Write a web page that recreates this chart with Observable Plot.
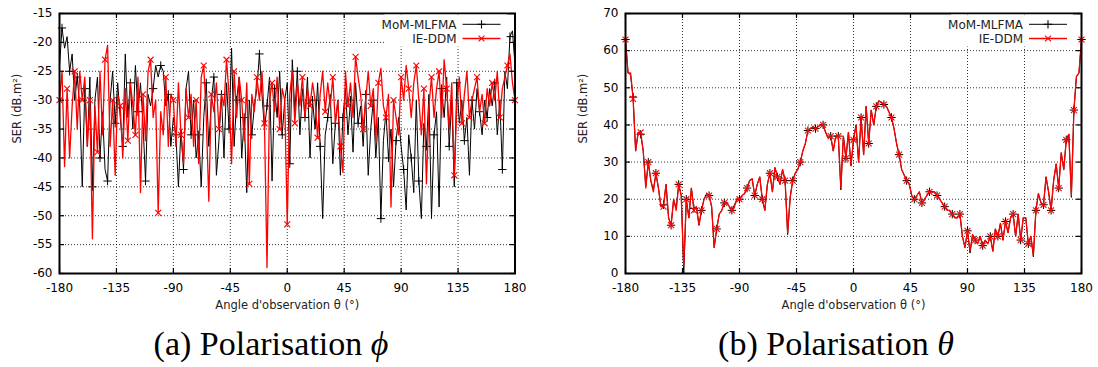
<!DOCTYPE html>
<html><head><meta charset="utf-8">
<script src="https://cdn.jsdelivr.net/npm/d3@7"></script>
<script src="https://cdn.jsdelivr.net/npm/@observablehq/plot@0.6"></script>
<style>
body{margin:0;background:#fff;}
#wrap{position:relative;width:1098px;height:367px;overflow:hidden;background:#fff}
.panel{position:absolute;top:0}
.cap{position:absolute;top:327px;font-family:"Liberation Serif","Times New Roman","DejaVu Serif",serif;font-size:34px;line-height:34px;white-space:nowrap;transform:translateX(-50%);color:#000}
</style></head><body>
<div id="wrap">
<div id="pa" class="panel" style="left:0"></div>
<div id="pb" class="panel" style="left:549px"></div>
<div class="cap" style="left:271px">(a) Polarisation <i>ϕ</i></div>
<div class="cap" style="left:836px">(b) Polarisation <i>θ</i></div>
</div>
<script>
// Observation angles (degrees), 2° sampling
const angles = d3.range(-180, 181, 2);
const xTicks = [-180, -135, -90, -45, 0, 45, 90, 135, 180];
const yTicksA = [-60, -55, -50, -45, -40, -35, -30, -25, -20, -15];
const yTicksB = [0, 10, 20, 30, 40, 50, 60, 70];
const seriesNames = ["MoM-MLFMA", "IE-DDM"];
const xLabel = "Angle d'observation θ (°)";
const yLabel = "SER (dB.m²)";

// (a) Polarisation phi
const momA = [
 -24, -17.5, -21, -19, -25, -22, -30, -26, -31, -45,
 -28, -38, -26, -45, -30, -26, -40, -32, -42, -44,
 -30, -25, -34, -27, -33, -38, -22, -33, -27, -35,
 -24, -32, -27, -34, -44, -29, -31, -28, -24, -26,
 -24, -25, -31, -29, -38, -33, -36, -45, -35, -42,
 -28, -25, -36, -30, -40, -36, -45, -33, -27, -38,
 -30, -26, -43, -37, -29, -40, -27, -35, -21, -38,
 -30, -26, -40, -33, -46, -30, -36, -31, -28, -22,
 -29, -35, -31, -26, -44, -28, -33, -25, -36, -30,
 -27, -41, -23, -32, -25, -36, -28, -33, -26, -40,
 -30, -35, -27, -38, -50.5, -36, -33, -29, -41, -34,
 -30, -43, -33, -28, -36, -30, -39, -27, -34, -31,
 -38, -29, -43, -35, -30, -40, -33, -50.5, -37, -32,
 -40, -35, -45, -37, -33, -38, -42, -49, -36, -40,
 -46, -30, -44, -50.5, -34, -38, -29, -50.5, -36, -32,
 -48.5, -28, -33, -26, -38, -30, -45, -27, -34, -30,
 -37, -33, -43, -30, -35, -28, -32, -36, -30, -33,
 -28, -31, -27, -36, -30, -42, -25, -28, -19, -18,
 -24
];
const ieA = [
 -30, -25, -41.5, -28, -40, -31, -25, -35, -25, -30,
 -26, -38, -30, -54, -31, -39, -25, -36, -23, -20.5,
 -38, -30, -43, -29, -31, -40, -28, -37, -27, -31,
 -36, -26, -46, -29, -37, -25, -23, -33, -30, -49.5,
 -32, -36, -26, -38, -29, -30, -38, -27, -36, -41,
 -28, -33, -29, -38, -30, -41, -26, -24, -33, -47.5,
 -29, -32, -27, -35, -29, -31, -23, -29, -41, -25,
 -33, -26, -30, -37, -27, -44.5, -29, -32, -26, -30,
 -25, -34, -59, -30, -27, -32, -26, -35, -28, -30,
 -51.5, -29, -25, -34, -27, -31, -26, -33, -28, -31,
 -27, -30, -36.5, -29, -25, -32, -27, -31, -26, -34,
 -30, -38, -42.5, -25, -31, -27, -33, -22.5, -26, -29,
 -35, -30, -25, -31, -28, -37, -27, -24.5, -31, -33,
 -29, -48.5, -30, -33, -36, -26, -30, -24, -28, -33,
 -27, -24, -30, -36, -28, -44.5, -31, -26, -33, -28,
 -25, -33, -23, -28, -35, -27, -43, -31, -26, -34,
 -29, -25, -33, -30, -28, -26, -32, -29, -34, -28,
 -31, -27, -30, -25, -33, -28, -26, -24, -22, -27,
 -30
];

// (b) Polarisation theta
const momB = [
 63, 54, 53.5, 47.5, 33, 38, 37.5, 33, 23.5, 30,
 25, 22.5, 27, 23, 18, 18.5, 24, 15, 13, 20,
 17.5, 24, 21, 0, 20, 15, 23, 17.5, 18, 13,
 17, 20, 21.5, 21, 18, 7, 12, 16, 17, 19,
 19, 18, 17, 18.5, 20, 20, 21, 21.5, 23, 25,
 25.5, 21, 24, 26, 20, 17, 24, 27, 22, 28.5,
 26, 24, 28, 25, 10.5, 20.5, 25, 27, 28, 30,
 33, 35, 38.5, 39, 39.5, 39, 39.5, 40, 40, 38,
 36.5, 37, 33, 37, 37, 22.5, 37, 31, 38, 29,
 36, 40, 30, 42, 32, 45, 35, 44, 40, 45,
 46.5, 46, 45.5, 45, 43.5, 42, 39, 35, 32, 28,
 26.5, 25, 24, 21, 20, 21, 22, 19, 20, 21,
 22, 22, 22, 21, 20, 19, 18, 17, 17, 16,
 15, 15, 16, 10, 7, 11.5, 5.5, 10.5, 9, 8,
 10, 7.5, 9, 8, 10, 6, 12, 10, 13.5, 9,
 14, 11, 15, 16, 10, 16, 9, 15, 15, 8,
 10, 4.5, 17, 21.5, 19, 18.5, 26, 22, 17, 25,
 29.5, 23, 32.5, 28, 36, 37.5, 20.5, 44, 53, 54,
 63
];
const ieB = [
 63, 54, 54, 47, 33, 38, 38, 33, 23, 30,
 25, 22, 27, 23, 18, 18, 24, 15, 13, 20,
 17, 24, 21, 2, 20, 15, 23, 17, 18, 13,
 17, 20, 21, 21, 18, 7, 12, 16, 17, 19,
 19, 18, 17, 18, 20, 20, 21, 21.5, 23, 25,
 25.5, 21, 24, 26, 20, 17, 24, 27, 22, 28.5,
 26, 24, 28, 25, 11, 20.5, 25, 27, 28, 30,
 33, 35, 38.5, 39, 39.5, 39, 39.5, 40, 40, 38,
 36.5, 37, 33, 37, 37, 23, 37, 31, 38, 29,
 36, 40, 30, 42, 32, 45, 35, 44, 40, 45,
 46.5, 46, 45.5, 45, 43.5, 42, 39, 35, 32, 28,
 26.5, 25, 24, 21, 20, 21, 22, 19, 20, 21,
 22, 22, 22, 21, 20, 19, 18, 17, 17, 16,
 15, 15, 16, 10, 7, 11.5, 6, 10.5, 9, 8,
 10, 7.5, 9, 8, 10, 6, 12, 10, 13.5, 9,
 14, 11, 15, 16, 10, 16, 9, 15, 15, 8,
 10, 5, 17, 21.5, 19, 18.5, 26, 22, 17, 25,
 29.5, 23, 32.5, 28, 36, 37.5, 21, 44, 53, 54,
 63
];

const BLACK = "#000", RED = "#ff0000";
const MR = 2.8;

function panel(cfg) {
  const W = 549, H = 320, mt = 13, mb = 47;
  const ml = cfg.marginLeft, mr = cfg.marginRight;
  const fw = W - ml - mr, fh = H - mt - mb;
  const mom = angles.map((a, i) => ({a, v: cfg.mom[i], i}));
  const ie = angles.map((a, i) => ({a, v: cfg.ie[i], i}));
  const yt = cfg.yTicks;
  const gridStyle = {stroke: "#000", strokeOpacity: 0.8, strokeDasharray: "1,2", strokeWidth: 1};
  const chart = Plot.plot({
    width: W, height: H, marginLeft: ml, marginRight: mr, marginTop: mt, marginBottom: mb,
    style: {fontFamily: "DejaVu Sans", fontSize: "12px", background: "#fff", color: "#000", overflow: "visible"},
    x: {domain: [-180, 180]},
    y: {domain: [yt[0], yt[yt.length - 1]]},
    marks: [
      Plot.gridX(xTicks.slice(1, -1), gridStyle),
      Plot.gridY(yt.slice(1, -1), gridStyle),
      Plot.line(mom, {x: "a", y: "v", stroke: BLACK, strokeWidth: 1}),
      Plot.dot(mom.filter(d => d.i % 3 === cfg.momOffset), {x: "a", y: "v", symbol: "plus", r: MR, stroke: BLACK, strokeWidth: 1}),
      Plot.line(ie, {x: "a", y: "v", stroke: RED, strokeWidth: 1.3}),
      Plot.dot(ie.filter(d => d.i % 3 === cfg.ieOffset), {x: "a", y: "v", symbol: "times", r: MR, stroke: RED, strokeWidth: 1.1}),
      Plot.tickX(xTicks, {x: d => d, insetTop: fh - 5, stroke: BLACK, strokeWidth: 1.2}),
      Plot.tickX(xTicks, {x: d => d, insetBottom: fh - 5, stroke: BLACK, strokeWidth: 1.2}),
      Plot.tickY(yt, {y: d => d, insetRight: fw - 5, stroke: BLACK, strokeWidth: 1.2}),
      Plot.tickY(yt, {y: d => d, insetLeft: fw - 5, stroke: BLACK, strokeWidth: 1.2}),
      Plot.axisX(xTicks, {tickSize: 0, tickPadding: 10, label: null, tickFormat: d => String(d), fontSize: 12}),
      Plot.axisY(yt, {tickSize: 0, tickPadding: 7, label: null, tickFormat: d => String(d), fontSize: 12}),
      Plot.frame({stroke: BLACK, strokeWidth: 2}),
      Plot.text([xLabel], {frameAnchor: "bottom", dy: 35, fontSize: 11.5, fill: "#222"}),
      Plot.text([yLabel], {frameAnchor: "left", dx: -42, rotate: -90, fontSize: 11.5, fill: "#222"})
    ]
  });
  // Legend (opaque key box in upper right)
  const svg = d3.select(chart);
  const right = W - mr;
  const g = svg.append("g").attr("font-family", "DejaVu Sans").attr("font-size", 12);
  g.append("rect").attr("x", right - 130).attr("y", mt + 1.5).attr("width", 122).attr("height", 32).attr("fill", "#fff");
  const rows = [
    {name: seriesNames[0], color: BLACK, sym: d3.symbolPlus, y: mt + 11.3, w: 1},
    {name: seriesNames[1], color: RED, sym: d3.symbolTimes, y: mt + 25.5, w: 1.6}
  ];
  rows.forEach(r => {
    g.append("text").attr("x", right - 58).attr("y", r.y).attr("dy", "0.35em").attr("text-anchor", "end").attr("fill", "#222").text(r.name);
    g.append("line").attr("x1", right - 52).attr("x2", right - 14).attr("y1", r.y).attr("y2", r.y).attr("stroke", r.color).attr("stroke-width", r.w);
    g.append("path").attr("d", d3.symbol(r.sym, Math.PI * MR * MR)()).attr("transform", `translate(${right - 33},${r.y})`).attr("fill", "none").attr("stroke", r.color).attr("stroke-width", 1.1);
  });
  return chart;
}

document.getElementById("pa").appendChild(panel({mom: momA, ie: ieA, yTicks: yTicksA, marginLeft: 59, marginRight: 34.5, momOffset: 1, ieOffset: 0}));
document.getElementById("pb").appendChild(panel({mom: momB, ie: ieB, yTicks: yTicksB, marginLeft: 76, marginRight: 17, momOffset: 0, ieOffset: 0}));
</script>
</body></html>
